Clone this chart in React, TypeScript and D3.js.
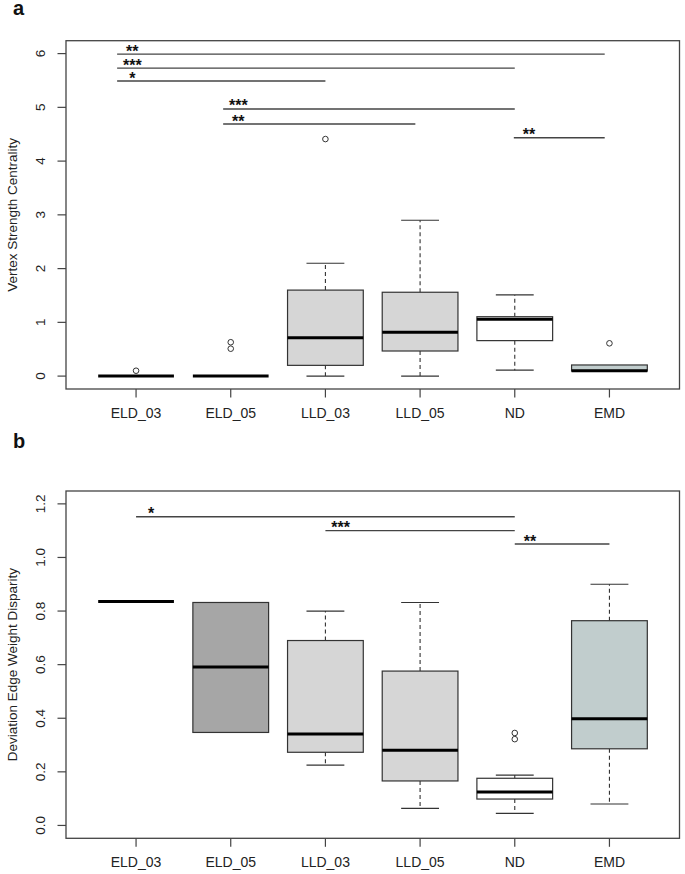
import React from "react";
import * as d3 from "d3";

// ---------- DATA ----------
const categories = ["ELD_03", "ELD_05", "LLD_03", "LLD_05", "ND", "EMD"];

// Panel a: Vertex Strength Centrality
const aTicks = [0, 1, 2, 3, 4, 5, 6];
const aWhiskerLow = [0, 0, 0, 0, 0.11, 0.095];
const aQ1 = [0, 0, 0.2, 0.467, 0.66, 0.095];
const aMedian = [0, 0, 0.714, 0.815, 1.057, 0.1];
const aQ3 = [0, 0, 1.6, 1.56, 1.105, 0.207];
const aWhiskerHigh = [0, 0, 2.1, 2.9, 1.51, 0.207];
const aOutliers = [[0.1], [0.51, 0.63], [4.41], [], [], [0.61]];
const aSigStart = [0.8, 0.8, 0.8, 1.92, 1.92, 4.99];
const aSigEnd = [5.95, 5.0, 3.0, 5.0, 3.95, 5.95];
const aSigLevel = [5.99, 5.73, 5.49, 4.97, 4.69, 4.435];
const aSigLabel = ["**", "***", "*", "***", "**", "**"];

// Panel b: Deviation Edge Weight Disparity
const bTicks = [0, 0.2, 0.4, 0.6, 0.8, 1.0, 1.2];
const bWhiskerLow = [0.836, 0.347, 0.225, 0.064, 0.045, 0.08];
const bQ1 = [0.836, 0.347, 0.273, 0.166, 0.0985, 0.286];
const bMedian = [0.836, 0.591, 0.341, 0.281, 0.125, 0.398];
const bQ3 = [0.836, 0.832, 0.69, 0.576, 0.176, 0.764];
const bWhiskerHigh = [0.836, 0.832, 0.8, 0.832, 0.188, 0.9];
const bOutliers = [[], [], [], [], [0.322, 0.345], []];
const bSigStart = [1.0, 3.0, 5.0];
const bSigEnd = [5.0, 5.0, 6.0];
const bSigLevel = [1.152, 1.1, 1.05];
const bSigLabel = ["*", "***", "**"];

// ---------- STYLE ----------
const FONT = "'Liberation Sans', Arial, Helvetica, sans-serif";
const aFills = ["#d3d3d3", "#a9a9a9", "#d6d6d6", "#d6d6d6", "#ffffff", "#c1cdcd"];
const bFills = ["#d3d3d3", "#a6a6a6", "#d6d6d6", "#d6d6d6", "#ffffff", "#c1cdcd"];
const INK = "#222";
const LINE = "#333";

type PanelProps = {
  letter: string;
  letterY: number;
  top: number;
  bottom: number;
  yDomain: [number, number];
  ticks: number[];
  tickFmt: (v: number) => string;
  yLabel: string;
  wlo: number[];
  q1: number[];
  med: number[];
  q3: number[];
  whi: number[];
  outliers: number[][];
  fills: string[];
  sigStart: number[];
  sigEnd: number[];
  sigLevel: number[];
  sigLabel: string[];
};

const LEFT = 66;
const RIGHT = 679.5;

function Panel(p: PanelProps) {
  const n = categories.length;
  const x = d3.scaleLinear().domain([0.26, n + 0.74]).range([LEFT, RIGHT]);
  const y = d3.scaleLinear().domain(p.yDomain).range([p.bottom, p.top]);
  const unit = x(1) - x(0);
  const half = (0.8 * unit) / 2;
  const staple = half / 2;
  const midY = (p.top + p.bottom) / 2;

  return (
    <g>
      <text x={13} y={p.letterY} fontFamily={FONT} fontWeight="bold" fontSize={20} fill="#111">
        {p.letter}
      </text>
      {/* frame */}
      <rect x={LEFT} y={p.top} width={RIGHT - LEFT} height={p.bottom - p.top} fill="none" stroke="#444" strokeWidth={1.3} />
      {/* y axis */}
      {p.ticks.map((t, i) => (
        <g key={"yt" + i}>
          <line x1={LEFT - 8.5} x2={LEFT} y1={y(t)} y2={y(t)} stroke="#444" strokeWidth={1.2} />
          <text
            transform={`translate(40,${y(t)}) rotate(-90)`}
            textAnchor="middle"
            dominantBaseline="central"
            fontFamily={FONT}
            fontSize={13.5}
            fill={INK}
          >
            {p.tickFmt(t)}
          </text>
        </g>
      ))}
      <text
        transform={`translate(12,${midY}) rotate(-90)`}
        textAnchor="middle"
        dominantBaseline="central"
        fontFamily={FONT}
        fontSize={13.5}
        fill={INK}
      >
        {p.yLabel}
      </text>
      {/* x axis */}
      {categories.map((c, i) => (
        <g key={"xt" + i}>
          <line x1={x(i + 1)} x2={x(i + 1)} y1={p.bottom} y2={p.bottom + 8.5} stroke="#444" strokeWidth={1.2} />
          <text x={x(i + 1)} y={p.bottom + 29} textAnchor="middle" fontFamily={FONT} fontSize={14} fill={INK}>
            {c}
          </text>
        </g>
      ))}
      {/* boxes */}
      {categories.map((c, i) => {
        const cx = x(i + 1);
        return (
          <g key={"box" + i}>
            {p.whi[i] > p.q3[i] && (
              <>
                <line x1={cx} x2={cx} y1={y(p.q3[i])} y2={y(p.whi[i])} stroke={LINE} strokeWidth={1.1} strokeDasharray="4,3" />
                <line x1={cx - staple} x2={cx + staple} y1={y(p.whi[i])} y2={y(p.whi[i])} stroke={LINE} strokeWidth={1.2} />
              </>
            )}
            {p.wlo[i] < p.q1[i] && (
              <>
                <line x1={cx} x2={cx} y1={y(p.q1[i])} y2={y(p.wlo[i])} stroke={LINE} strokeWidth={1.1} strokeDasharray="4,3" />
                <line x1={cx - staple} x2={cx + staple} y1={y(p.wlo[i])} y2={y(p.wlo[i])} stroke={LINE} strokeWidth={1.2} />
              </>
            )}
            <rect
              x={cx - half}
              y={y(p.q3[i])}
              width={2 * half}
              height={Math.max(0, y(p.q1[i]) - y(p.q3[i]))}
              fill={p.fills[i]}
              stroke={LINE}
              strokeWidth={1.2}
            />
            <line x1={cx - half} x2={cx + half} y1={y(p.med[i])} y2={y(p.med[i])} stroke="#000" strokeWidth={3} />
            {p.outliers[i].map((o, j) => (
              <circle key={j} cx={cx} cy={y(o)} r={2.8} fill="none" stroke={LINE} strokeWidth={1} />
            ))}
          </g>
        );
      })}
      {/* significance bars */}
      {p.sigLabel.map((s, i) => (
        <g key={"sig" + i}>
          <line x1={x(p.sigStart[i])} x2={x(p.sigEnd[i])} y1={y(p.sigLevel[i])} y2={y(p.sigLevel[i])} stroke="#444" strokeWidth={1.4} />
          <text
            x={x(p.sigStart[i] + 0.16)}
            y={y(p.sigLevel[i]) + 2.5}
            textAnchor="middle"
            fontFamily={FONT}
            fontWeight="bold"
            fontSize={16}
            fill="#111"
          >
            {s}
          </text>
        </g>
      ))}
    </g>
  );
}

export default function App() {
  return (
    <svg width={685} height={874} style={{ position: "absolute", left: 0, top: 0, background: "#fff" }}>
      <rect width={685} height={874} fill="#fff" />
      <Panel
        letter="a"
        letterY={15}
        top={40.7}
        bottom={389}
        yDomain={[-0.24, 6.24]}
        ticks={aTicks}
        tickFmt={(v) => d3.format("d")(v)}
        yLabel="Vertex Strength Centrality"
        wlo={aWhiskerLow}
        q1={aQ1}
        med={aMedian}
        q3={aQ3}
        whi={aWhiskerHigh}
        outliers={aOutliers}
        fills={aFills}
        sigStart={aSigStart}
        sigEnd={aSigEnd}
        sigLevel={aSigLevel}
        sigLabel={aSigLabel}
      />
      <Panel
        letter="b"
        letterY={448}
        top={491}
        bottom={838.3}
        yDomain={[-0.048, 1.248]}
        ticks={bTicks}
        tickFmt={(v) => d3.format(".1f")(v)}
        yLabel="Deviation Edge Weight Disparity"
        wlo={bWhiskerLow}
        q1={bQ1}
        med={bMedian}
        q3={bQ3}
        whi={bWhiskerHigh}
        outliers={bOutliers}
        fills={bFills}
        sigStart={bSigStart}
        sigEnd={bSigEnd}
        sigLevel={bSigLevel}
        sigLabel={bSigLabel}
      />
    </svg>
  );
}
